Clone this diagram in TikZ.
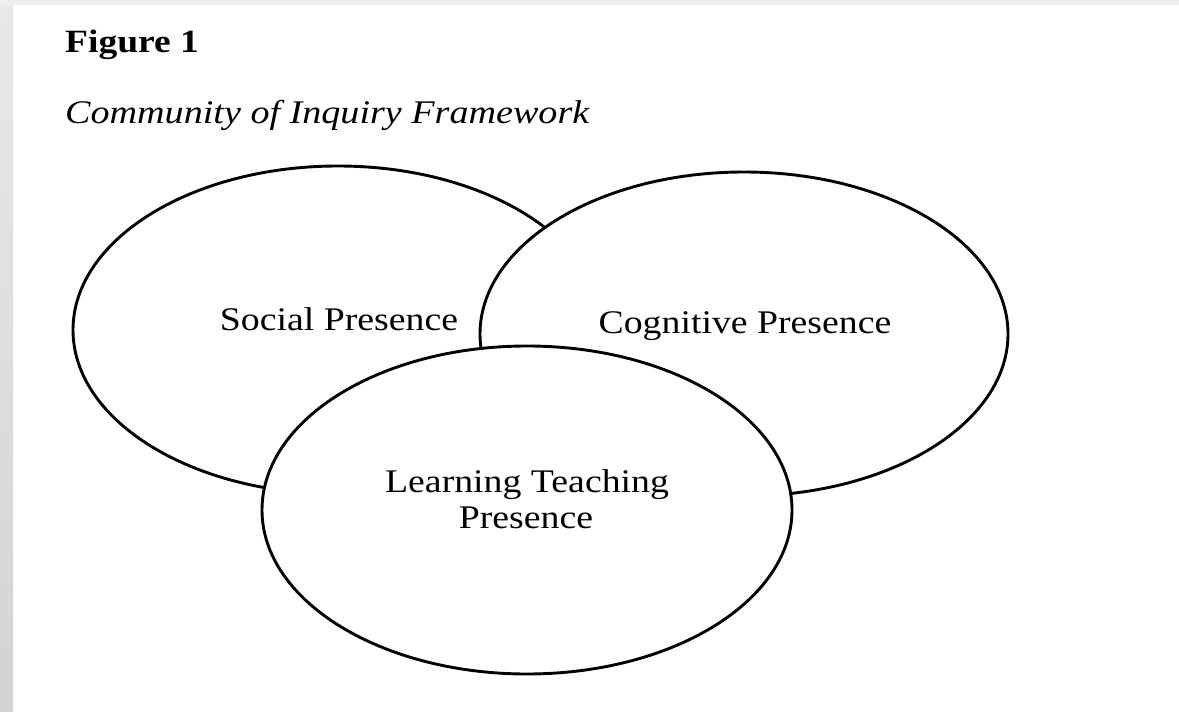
\documentclass[tikz,border=0pt]{standalone}
\usepackage{fontspec}
\setmainfont{Liberation Serif}
\usetikzlibrary{shapes.geometric}
\begin{document}
\begin{tikzpicture}[x=1pt,y=-1pt,
  circ/.style={draw=black,fill=white,line width=2.9pt,ellipse,inner sep=0pt},
  lbl/.style={font=\fontsize{33}{36}\selectfont,anchor=base,inner sep=0pt,xscale=1.145},
  ttl/.style={anchor=base west,inner sep=0pt,xscale=1.155}]
\useasboundingbox (0,0) rectangle (1179,712);
\fill[white] (0,0) rectangle (1179,712);
\shade[top color=gray!18,bottom color=gray!30!cyan!3!gray!35] (0,0) rectangle (13,712);
\fill[gray!13] (0,0) rectangle (1179,5);
\node[ttl,font=\fontsize{32.5}{36}\selectfont\bfseries] (fig) at (65,52) {Figure 1};
\node[ttl,font=\fontsize{33}{36}\selectfont\itshape] (cap) at (65,123) {Community of Inquiry Framework};
\node[circ,minimum width=530pt,minimum height=328pt] (soc) at (338,330) {};
\node[circ,minimum width=528pt,minimum height=324pt] (cog) at (744,334) {};
\node[circ,minimum width=530pt,minimum height=328pt] (lea) at (527,510) {};
\node[lbl] (socl) at (339,330) {Social Presence};
\node[lbl] (cogl) at (745,333) {Cognitive Presence};
\node[lbl] (leal1) at (527,492) {Learning Teaching};
\node[lbl] (leal2) at (526,528) {Presence};
\end{tikzpicture}
\end{document}
